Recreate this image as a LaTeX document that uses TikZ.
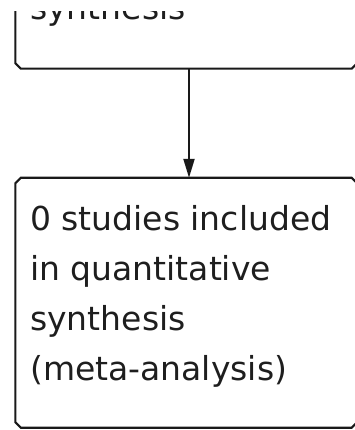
\documentclass[tikz,border=0pt]{standalone}
\usepackage{fontspec}
\setmainfont{DejaVu Sans}
\usetikzlibrary{arrows.meta}
\definecolor{edge}{RGB}{25,25,25}
\definecolor{ink}{RGB}{30,30,30}
\newcommand{\chbox}[1]{%
  \draw[border] ([xshift=5.5pt]#1.north west) -- ([xshift=-5.5pt]#1.north east)
    -- ([yshift=-5.5pt]#1.north east) -- ([yshift=5.5pt]#1.south east)
    -- ([xshift=-5.5pt]#1.south east) -- ([xshift=5.5pt]#1.south west)
    -- ([yshift=5.5pt]#1.south west) -- ([yshift=-5.5pt]#1.north west) -- cycle;}
\begin{document}
\begin{tikzpicture}[x=1pt,y=-1pt,
  box/.style={rectangle, inner sep=0pt},
  border/.style={draw=edge, line width=2.1pt, line join=miter},
  txt/.style={font=\fontsize{33}{50}\selectfont, align=left, inner sep=0pt, text=ink},
  conn/.style={draw=edge, line width=2.1pt, -{Triangle[width=11pt,length=19pt]}}]
\useasboundingbox (0,0) rectangle (355,430);
\begin{scope}
  \clip (0,11.5) rectangle (360,430);
  \node[box, minimum width=341.5pt, minimum height=168.5pt] (top) at (186.25,-15.75) {};
  \chbox{top}
  \node[txt, anchor=base west] (toptext) at (30,19.5) {synthesis};
\end{scope}
\node[box, minimum width=341.5pt, minimum height=249.5pt] (bot) at (186.25,302.75) {};
\chbox{bot}
\node[txt, anchor=north west] (bottext) at (30,205) {0 studies included\\in quantitative\\synthesis\\(meta-analysis)};
\coordinate (ax) at (189,0);
\draw[conn] (top.south -| ax) -- (bot.north -| ax);
\end{tikzpicture}
\end{document}
